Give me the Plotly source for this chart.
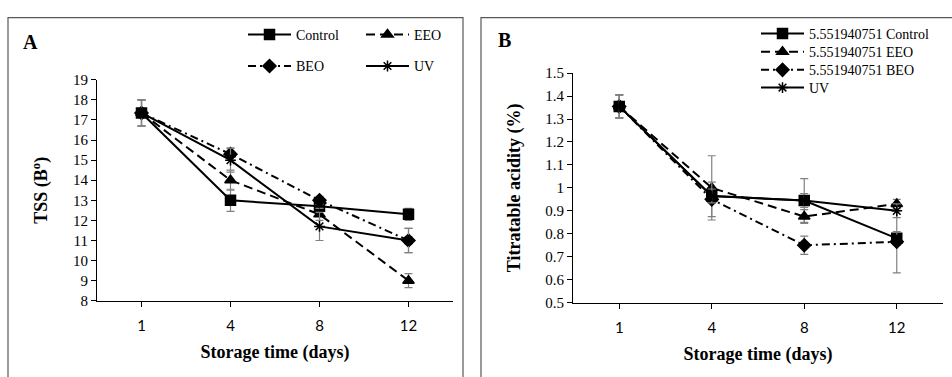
import plotly.graph_objects as go

W, H = 952, 377
days = ["1", "4", "8", "12"]

# Panel A: TSS (B°)
tss_control = [17.35, 13.0, 12.7, 12.3]
tss_eeo = [17.35, 14.0, 12.3, 9.0]
tss_beo = [17.35, 15.3, 13.0, 11.0]
tss_uv = [17.35, 15.0, 11.7, 11.0]
tss_control_err = [0.65, 0.55, 0.25, 0.3]
tss_eeo_err = [0.65, 0.5, 0.3, 0.35]
tss_beo_err = [0.65, 0.3, 0.2, 0.6]
tss_uv_err = [0.65, 0.6, 0.7, 0.6]

# Panel B: Titratable acidity (%)
ta_control = [1.355, 0.965, 0.945, 0.78]
ta_eeo = [1.355, 1.0, 0.875, 0.93]
ta_beo = [1.355, 0.95, 0.75, 0.765]
ta_uv = [1.355, 0.965, 0.945, 0.90]
ta_control_err = [0.05, 0.03, 0.095, 0.03]
ta_eeo_err = [0.05, 0.14, 0.03, 0.02]
ta_beo_err = [0.05, 0.075, 0.04, 0.135]
ta_uv_err = [0.05, 0.03, 0.03, 0.03]

names_a = ["Control", "EEO", "BEO", "UV"]
names_b = ["5.551940751 Control", "5.551940751 EEO", "5.551940751 BEO", "UV"]

styles = [
    dict(dash="solid", symbol="square", size=10),
    dict(dash="9px,5px", symbol="triangle-up", size=10),
    dict(dash="8px,4px,2px,4px", symbol="diamond", size=10),
    dict(dash="solid", symbol="asterisk-open", size=9),
]

serif = "Liberation Serif"
sans = "Lato"

fig = go.Figure()

data_a = [(tss_control, tss_control_err), (tss_eeo, tss_eeo_err),
          (tss_beo, tss_beo_err), (tss_uv, tss_uv_err)]
data_b = [(ta_control, ta_control_err), (ta_eeo, ta_eeo_err),
          (ta_beo, ta_beo_err), (ta_uv, ta_uv_err)]
legends_a = ["legend", "legend", "legend2", "legend2"]
legends_b = ["legend3", "legend4", "legend5", "legend6"]

for i, ((vals, err), st) in enumerate(zip(data_a, styles)):
    fig.add_trace(go.Scatter(
        x=days, y=vals, name=names_a[i], mode="lines+markers",
        line=dict(color="black", width=2, dash=st["dash"]),
        marker=dict(symbol=st["symbol"], size=st["size"], color="black",
                    line=dict(color="black", width=1.5)),
        error_y=dict(type="data", array=err, color="#808080", thickness=1.2, width=4),
        xaxis="x", yaxis="y", legend=legends_a[i]))

for i, ((vals, err), st) in enumerate(zip(data_b, styles)):
    fig.add_trace(go.Scatter(
        x=days, y=vals, name=names_b[i], mode="lines+markers",
        line=dict(color="black", width=2, dash=st["dash"]),
        marker=dict(symbol=st["symbol"], size=st["size"], color="black",
                    line=dict(color="black", width=1.5)),
        error_y=dict(type="data", array=err, color="#808080", thickness=1.2, width=4),
        xaxis="x2", yaxis="y2", legend=legends_b[i]))

def px_x(p):
    return p / W

def px_y(p):
    return 1 - p / H

common_x = dict(type="category", categoryorder="array", categoryarray=days,
                range=[-0.5, 3.5], showline=True, linecolor="black", linewidth=1,
                ticks="outside", ticklen=5, tickcolor="black", showgrid=False,
                zeroline=False, ticklabelstandoff=6,
                tickfont=dict(family=sans, size=15, color="black"),
                title=dict(text="Storage time (days)",
                           font=dict(family=serif, size=18, color="black", weight="bold"),
                           standoff=12))
common_y = dict(showline=True, linecolor="black", linewidth=1, ticks="outside",
                ticklen=5, tickcolor="black", showgrid=False, zeroline=False,
                tickfont=dict(family=serif, size=15, color="black"))

leg_font = dict(family=serif, size=14, color="black")

layout = dict(
    width=W, height=H, margin=dict(l=0, r=0, t=0, b=0),
    paper_bgcolor="white", plot_bgcolor="white",
    xaxis=dict(domain=[px_x(97), px_x(453)], anchor="y", **common_x),
    yaxis=dict(domain=[px_y(305.7), px_y(75)], anchor="x", range=[8, 19], dtick=1,
               title=dict(text="TSS (B<sup>o</sup>)",
                          font=dict(family=serif, size=18, color="black", weight="bold"),
                          standoff=20),
               **common_y),
    xaxis2=dict(domain=[px_x(573), px_x(943)], anchor="y2", **common_x),
    yaxis2=dict(domain=[px_y(307.7), px_y(68)], anchor="x2", range=[0.5, 1.5], dtick=0.1,
                title=dict(text="Titratable acidity (%)",
                           font=dict(family=serif, size=18, color="black", weight="bold"),
                           standoff=19),
                **common_y),
    legend=dict(orientation="h", x=px_x(243), xanchor="left", y=px_y(28), yanchor="middle",
                entrywidth=60, entrywidthmode="pixels", itemwidth=43,
                font=leg_font, bgcolor="rgba(0,0,0,0)"),
    legend2=dict(orientation="h", x=px_x(243), xanchor="left", y=px_y(61), yanchor="middle",
                 entrywidth=60, entrywidthmode="pixels", itemwidth=43,
                 font=leg_font, bgcolor="rgba(0,0,0,0)"),
    showlegend=True,
)
for j, yc in enumerate([27, 46, 65, 83.5]):
    layout["legend%d" % (j + 3)] = dict(orientation="v", x=px_x(756), xanchor="left",
                                        y=px_y(yc), yanchor="middle", itemwidth=43,
                                        font=leg_font, bgcolor="rgba(0,0,0,0)")
fig.update_layout(**layout)

# Panel frames
fig.add_shape(type="rect", xref="paper", yref="paper",
              x0=px_x(8), x1=px_x(463), y0=px_y(390), y1=px_y(10),
              line=dict(color="#595959", width=1.2), layer="below")
fig.add_shape(type="rect", xref="paper", yref="paper",
              x0=px_x(481), x1=px_x(965), y0=px_y(390), y1=px_y(10),
              line=dict(color="#595959", width=1.2), layer="below")

fig.add_annotation(text="A", xref="paper", yref="paper", x=px_x(21), y=px_y(35),
                   xanchor="left", yanchor="middle", showarrow=False,
                   font=dict(family=serif, size=20, color="black", weight="bold"))
fig.add_annotation(text="B", xref="paper", yref="paper", x=px_x(496), y=px_y(33),
                   xanchor="left", yanchor="middle", showarrow=False,
                   font=dict(family=serif, size=20, color="black", weight="bold"))

fig.write_html("out.html")
